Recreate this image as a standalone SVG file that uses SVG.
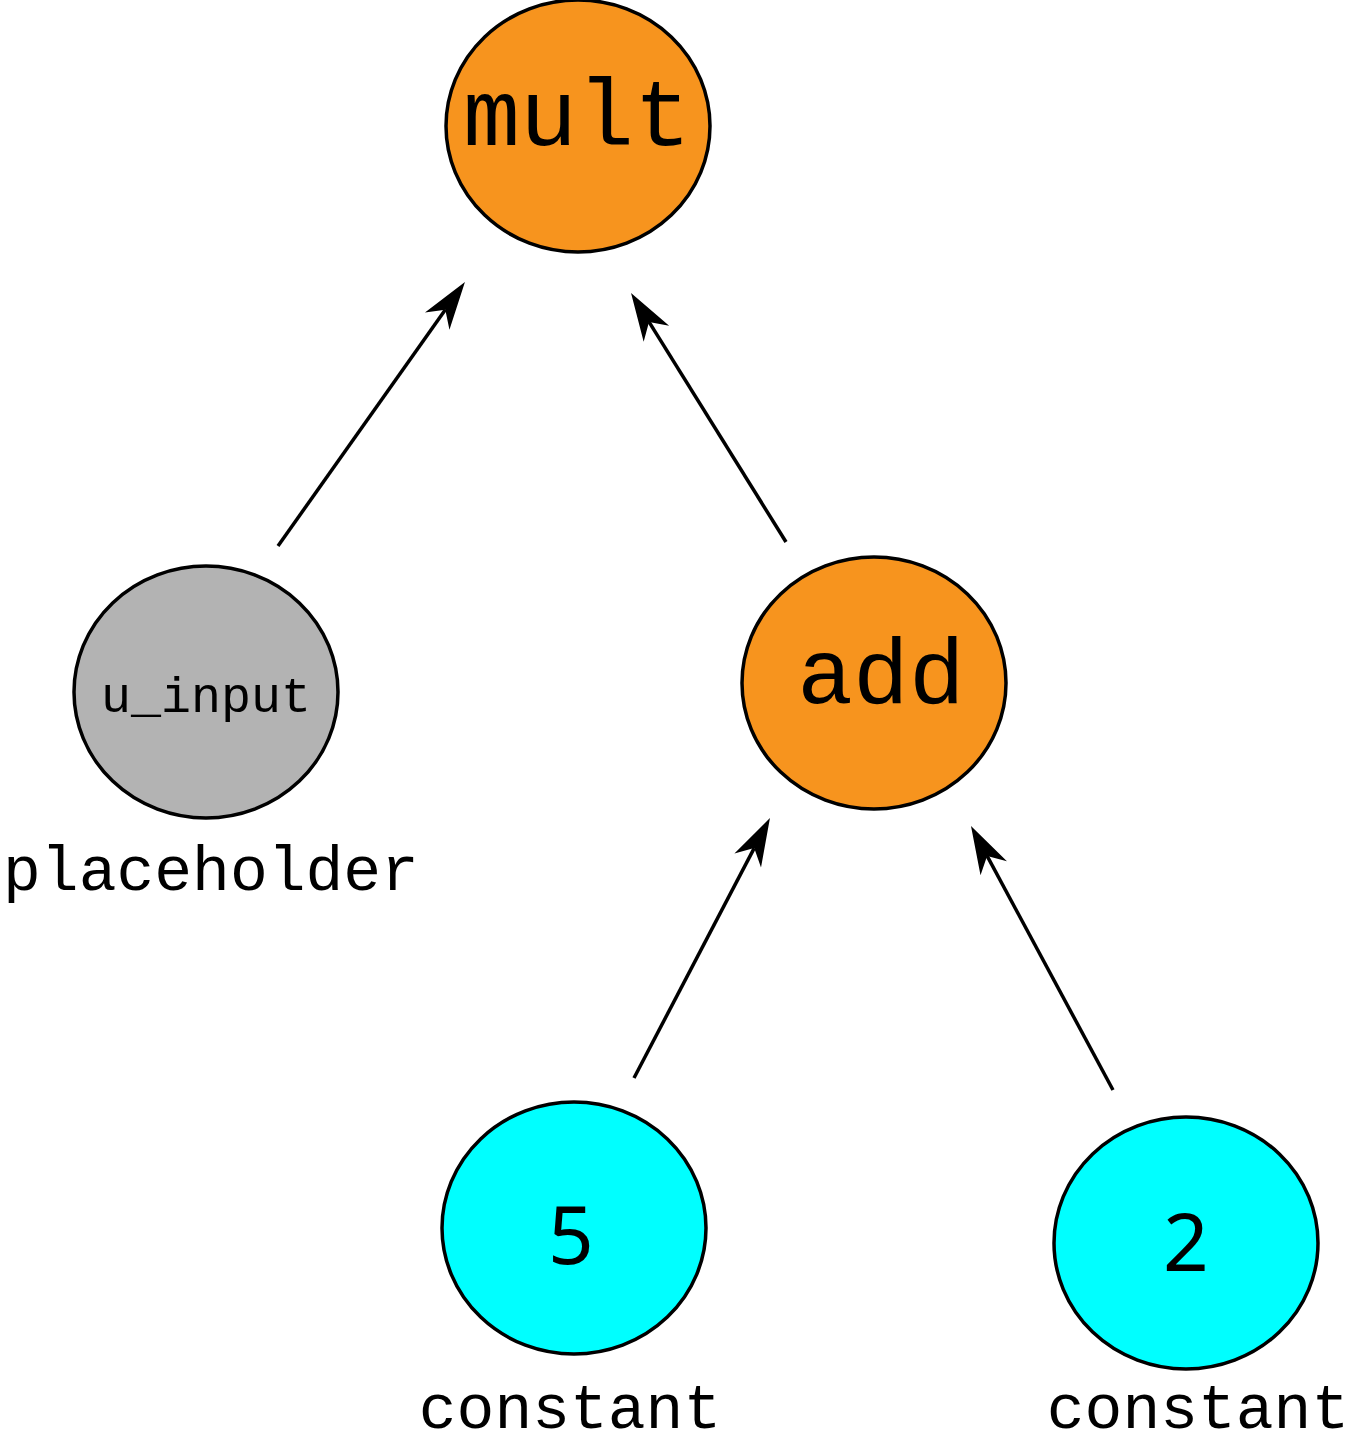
<svg xmlns="http://www.w3.org/2000/svg" width="1353" height="1456" viewBox="0 0 1353 1456">
<style>
.n{stroke:#000;stroke-width:3.5}
.op{fill:#F7941E}
.ph{fill:#B3B3B3}
.cs{fill:#00FFFF}
.m{font-family:"Liberation Mono","Courier New",monospace;fill:#000;text-anchor:middle}
.d{font-family:"Noto Sans","DejaVu Sans",sans-serif;fill:#000;text-anchor:middle}
.e{stroke:#000;stroke-width:3.5;fill:none;marker-end:url(#ah)}
</style>
<defs>
<marker id="ah" markerUnits="userSpaceOnUse" markerWidth="60" markerHeight="40" viewBox="-2 -20 60 40" refX="14" refY="0" orient="auto">
<path d="M48,0 L0,-15 L14,0 L0,15 Z" fill="#000"/>
</marker>
</defs>
<g id="connectors">
<line class="e" x1="278" y1="546" x2="445.3" y2="309.7"/>
<line class="e" x1="786" y1="542" x2="649" y2="321.9"/>
<line class="e" x1="634" y1="1078" x2="754.2" y2="848.1"/>
<line class="e" x1="1113" y1="1090" x2="987.1" y2="855.9"/>
</g>
<g id="mult">
<ellipse class="n op" cx="578" cy="126" rx="132" ry="126"/>
<text class="m" x="577" y="145" font-size="95">mult</text>
</g>
<g id="u_input">
<ellipse class="n ph" cx="206" cy="692" rx="132" ry="126"/>
<text class="m" x="206" y="712" font-size="50">u_input</text>
<text class="m" x="211" y="890" font-size="63">placeholder</text>
</g>
<g id="add">
<ellipse class="n op" cx="874" cy="683" rx="132" ry="126"/>
<text class="m" x="881" y="703" font-size="93">add</text>
</g>
<g id="c5">
<ellipse class="n cs" cx="574" cy="1228" rx="132" ry="126"/>
<text class="d" x="571" y="1264" font-size="80">5</text>
<text class="m" x="570" y="1428" font-size="63">constant</text>
</g>
<g id="c2">
<ellipse class="n cs" cx="1186" cy="1243" rx="132" ry="126"/>
<text class="d" x="1186" y="1271" font-size="80">2</text>
<text class="m" x="1198" y="1428" font-size="63">constant</text>
</g>
</svg>
